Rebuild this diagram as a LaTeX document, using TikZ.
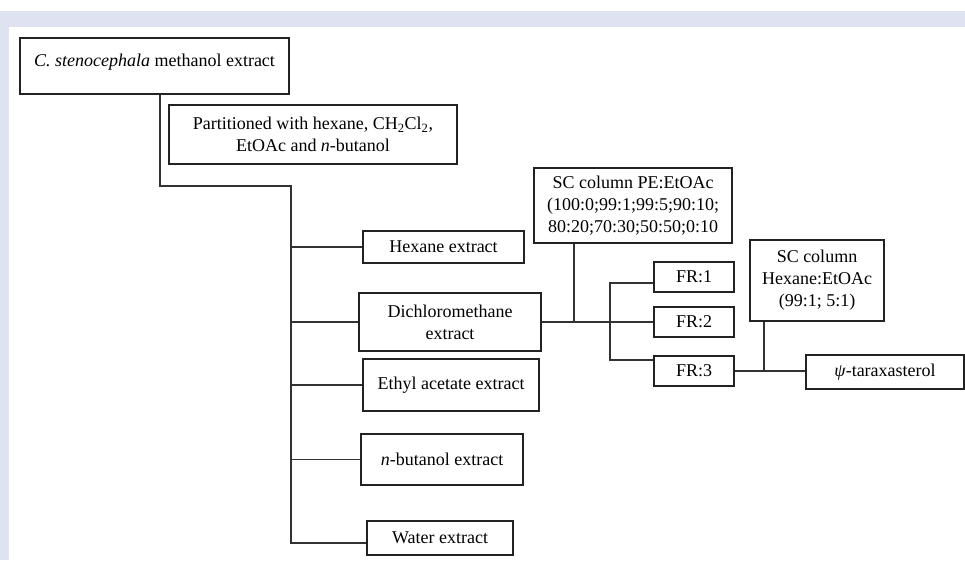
\documentclass[tikz,border=0pt]{standalone}
\usepackage{fontspec}
\setmainfont{Liberation Serif}
\definecolor{band_blue}{RGB}{223,227,241}
\definecolor{box_line}{RGB}{34,34,34}
\definecolor{link_line}{RGB}{50,50,50}
\begin{document}
\begin{tikzpicture}[
  x=1pt,y=-1pt,
  font=\fontsize{18}{22}\selectfont,
  extract_box/.style={
    draw=box_line,line width=1.3pt,rectangle,inner sep=0pt,align=center
  },
  link/.style={
    draw=link_line,line width=1.1pt
  }]
  %
  \useasboundingbox (0,0) rectangle (965,560);
  \fill[band_blue] (0,11) rectangle (965,27);
  \fill[band_blue] (0,27) rectangle (9,560);
  %
  \node[extract_box,minimum width=269,minimum height=56,text depth=12pt] (meth) at (154.5,66)
    {\textit{C. stenocephala} methanol extract};
  \node[extract_box,minimum width=288,minimum height=59] (part) at (313,134.5)
    {Partitioned with hexane, CH\textsubscript{2}Cl\textsubscript{2},\\EtOAc and \textit{n}-butanol};
  \node[extract_box,minimum width=161,minimum height=32] (hex) at (443.5,247) {Hexane extract};
  \node[extract_box,minimum width=182,minimum height=58] (dcm) at (450,322) {Dichloromethane\\extract};
  \node[extract_box,minimum width=176,minimum height=52] (ea) at (451,385) {Ethyl acetate extract};
  \node[extract_box,minimum width=162,minimum height=51] (nb) at (442,459.5) {\textit{n}-butanol extract};
  \node[extract_box,minimum width=146,minimum height=34] (wat) at (440,538) {Water extract};
  %
  \node[extract_box,minimum width=198,minimum height=75] (pe) at (633,205.5)
    {SC column PE:EtOAc\\(100:0;99:1;99:5;90:10;\\80:20;70:30;50:50;0:10};
  \foreach \i/\y in {1/277,2/322,3/371} {
    \node[extract_box,minimum width=80,minimum height=30] (fr_\i) at (694,\y) {FR:\i};
  }
  \node[extract_box,minimum width=134,minimum height=81] (sch) at (817,280.5)
    {SC column\\Hexane:EtOAc\\(99:1; 5:1)};
  \node[extract_box,minimum width=158,minimum height=34] (psi) at (885,372) {\textit{ψ}-taraxasterol};
  %
  \coordinate (t0) at (160,186);
  \coordinate (t1) at (291,186);
  \coordinate (t2) at (291,543);
  \draw[link] (meth.south -| t0) -- (t0) -- (t1) -- (t2) -- (t2 -| wat.west);
  \foreach \n in {hex,dcm,ea,nb} {
    \draw[link] (\n.west -| t1) -- (\n.west);
  }
  %
  \coordinate (j1) at (574,322);
  \draw[link] (dcm.east) -- (fr_2.west);
  \draw[link] (pe.south -| j1) -- (j1);
  \coordinate (b1) at (610,283);
  \coordinate (b2) at (610,360);
  \draw[link] (fr_1.west |- b1) -- (b1) -- (b2) -- (b2 -| fr_3.west);
  %
  \coordinate (j2) at (764,371);
  \draw[link] (fr_3.east) -- (fr_3.east -| psi.west);
  \draw[link] (sch.south -| j2) -- (j2);
\end{tikzpicture}
\end{document}
